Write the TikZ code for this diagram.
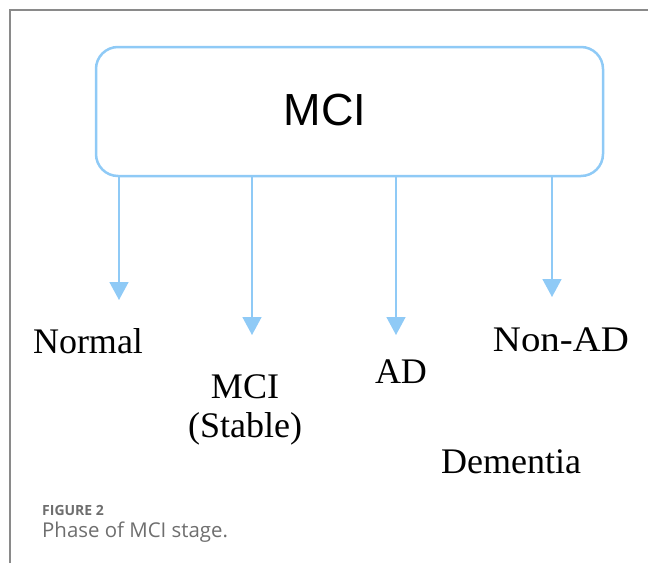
\documentclass[tikz,border=0pt]{standalone}
\usepackage{fontspec}
\usepackage{graphicx}
\setmainfont{Liberation Serif}
\newfontfamily\boxfont{Liberation Sans}
\newfontfamily\capfont{Open Sans}
\usetikzlibrary{arrows.meta}
\definecolor{flowblue}{HTML}{8FCAF6}
\definecolor{framegray}{HTML}{8A8A8A}
\definecolor{captiongray}{HTML}{6E6E6E}
\tikzset{
  phasebox/.style={draw=flowblue, line width=2.5pt, rounded corners=22pt,
    minimum width=507pt, minimum height=129pt, inner sep=0pt},
  outcome/.style={font=\fontsize{36}{39}\selectfont, inner sep=0pt, anchor=base, align=center},
  branch/.style={draw=flowblue, line width=1.6pt, -{Triangle[width=19pt,length=18pt]}},
}
\begin{document}
\begin{tikzpicture}[x=1pt,y=-1pt]
  \useasboundingbox (0,0) rectangle (648,563);
  % frame of the figure panel
  \draw[framegray, line width=1.3pt] (10,563) -- (10,10) -- (648,10);
  % central MCI box
  \node[phasebox] (mci) at (349.5,111.5) {};
  \node[font=\boxfont\fontsize{45}{45}\selectfont, inner sep=0pt, anchor=base] (mcilabel) at (325,125) {MCI};
  % outcome labels (a two-line node sits on its last baseline)
  \node[outcome] (normal) at (88,353) {Normal};
  \node[outcome] (stable) at (245,437) {MCI\\(Stable)};
  \node[outcome] (ad) at (401,383) {AD};
  \node[outcome] (nonad) at (561,351) {\scalebox{1.08}[1]{Non-AD}};
  \node[outcome] (dementia) at (511,473) {Dementia};
  % arrow tips
  \coordinate (t1) at (119,300);
  \coordinate (t2) at (252,335);
  \coordinate (t3) at (396,335);
  \coordinate (t4) at (552,297);
  \draw[branch] (mci.south -| t1) -- (t1);
  \draw[branch] (mci.south -| t2) -- (t2);
  \draw[branch] (mci.south -| t3) -- (t3);
  \draw[branch] (mci.south -| t4) -- (t4);
  % caption
  \node[font=\capfont\bfseries\fontsize{14}{14}\selectfont, text=captiongray, anchor=base west, inner sep=0pt] (fig) at (42,515) {FIGURE 2};
  \node[font=\capfont\fontsize{20.4}{21}\selectfont, text=captiongray, anchor=base west, inner sep=0pt] (caption) at (42,537) {Phase of MCI stage.};
\end{tikzpicture}
\end{document}
